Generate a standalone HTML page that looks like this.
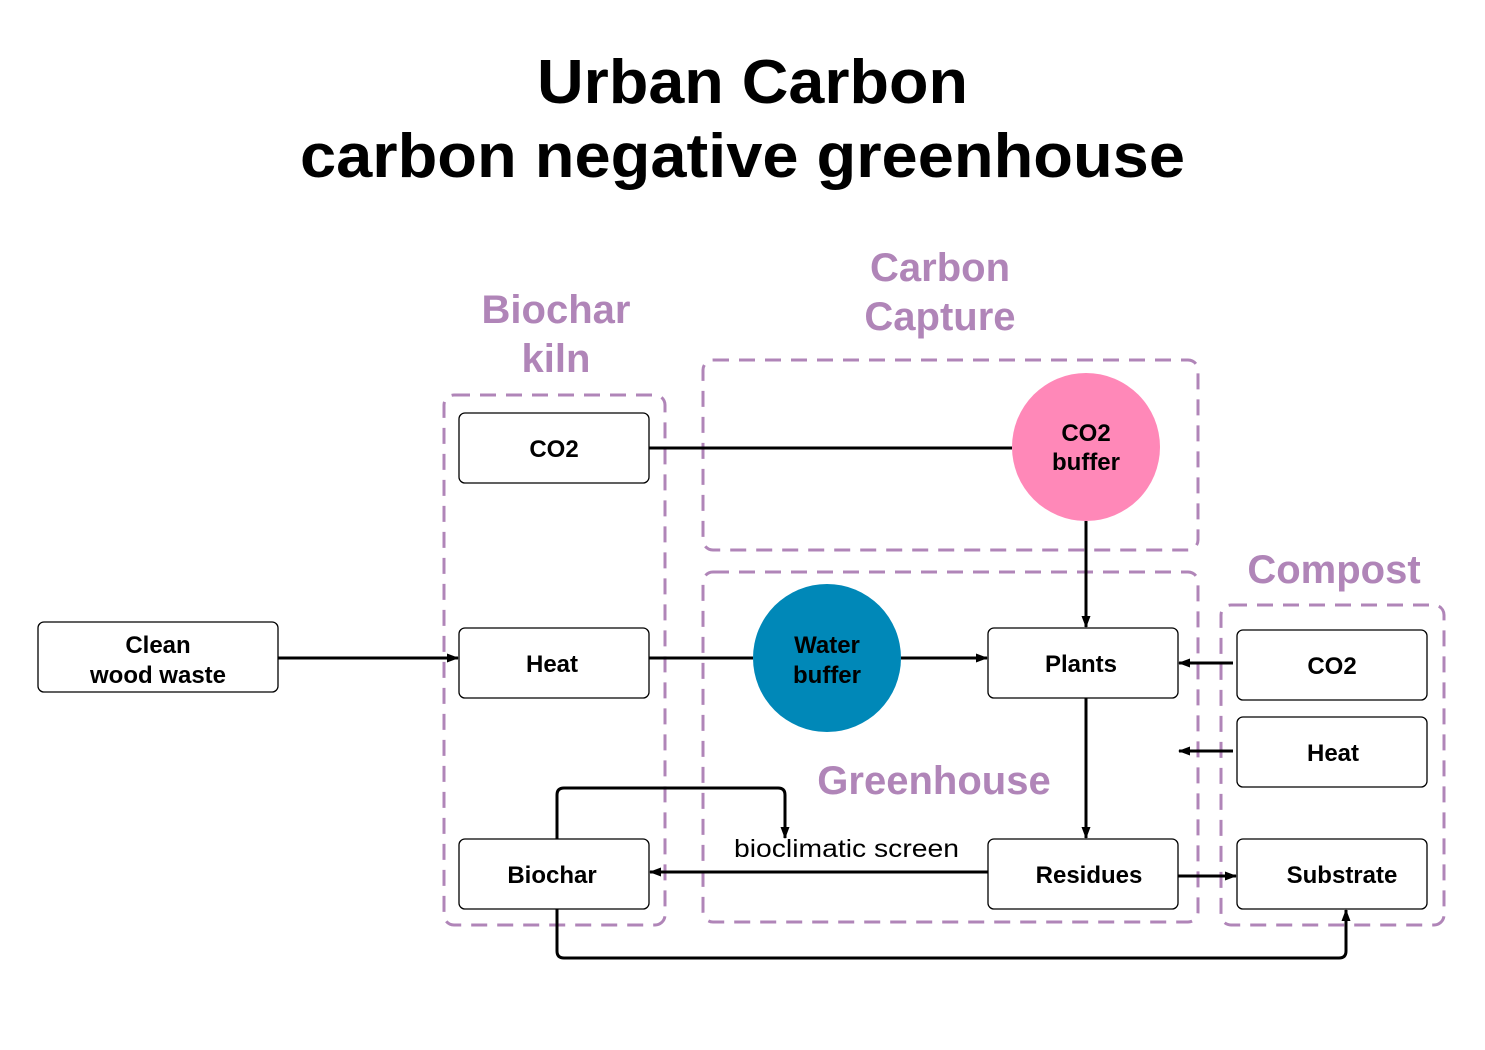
<!DOCTYPE html>
<html><head><meta charset="utf-8"><style>
html,body{margin:0;padding:0;background:#fff;}
svg{display:block;font-family:"Liberation Sans",sans-serif;}
</style></head><body>
<svg width="1485" height="1050" viewBox="0 0 1485 1050" xmlns="http://www.w3.org/2000/svg">
<defs>
<marker id="a" markerWidth="12" markerHeight="12" refX="11" refY="6" orient="auto" markerUnits="userSpaceOnUse">
<path d="M0,1.5 L12,6 L0,10.5 z" fill="#000"/></marker>
</defs>
<g font-weight="bold" fill="#000">
<text x="537" y="103" font-size="62" textLength="431" lengthAdjust="spacingAndGlyphs">Urban Carbon</text>
<text x="300" y="177" font-size="62" textLength="885" lengthAdjust="spacingAndGlyphs">carbon negative greenhouse</text>
</g>
<g font-weight="bold" text-anchor="middle" fill="#b085b8" font-size="40">
<text x="556" y="323">Biochar</text><text x="556" y="372">kiln</text>
<text x="940" y="281">Carbon</text><text x="940" y="330">Capture</text>
<text x="1334" y="583">Compost</text>
<text x="934" y="794">Greenhouse</text>
</g>
<g fill="none" stroke="#b085b8" stroke-width="3" stroke-dasharray="16 10">
<rect x="444" y="395" width="221" height="530" rx="10"/>
<rect x="703" y="360" width="495" height="190" rx="10"/>
<rect x="703" y="572" width="495" height="350" rx="10"/>
<rect x="1221" y="605" width="223" height="320" rx="10"/>
</g>
<g fill="none" stroke="#000" stroke-width="3">
<line x1="649" y1="448" x2="1012" y2="448"/>
<line x1="1086" y1="521" x2="1086" y2="627" marker-end="url(#a)"/>
<line x1="278" y1="658" x2="458" y2="658" marker-end="url(#a)"/>
<line x1="649" y1="658" x2="753" y2="658"/>
<line x1="901" y1="658" x2="987" y2="658" marker-end="url(#a)"/>
<line x1="1086" y1="698" x2="1086" y2="838" marker-end="url(#a)"/>
<line x1="1233" y1="663" x2="1179" y2="663" marker-end="url(#a)"/>
<line x1="1233" y1="751" x2="1179" y2="751" marker-end="url(#a)"/>
<line x1="1178" y1="876" x2="1236" y2="876" marker-end="url(#a)"/>
<line x1="988" y1="872" x2="650" y2="872" marker-end="url(#a)"/>
<path d="M557,839 V795 Q557,788 564,788 H778 Q785,788 785,795 V838" marker-end="url(#a)"/>
<path d="M557,909 V951 Q557,958 564,958 H1339 Q1346,958 1346,951 V910" marker-end="url(#a)"/>
</g>
<g fill="#fff" stroke="#000" stroke-width="1.3">
<rect x="459" y="413" width="190" height="70" rx="6"/>
<rect x="459" y="628" width="190" height="70" rx="6"/>
<rect x="459" y="839" width="190" height="70" rx="6"/>
<rect x="38" y="622" width="240" height="70" rx="6"/>
<rect x="988" y="628" width="190" height="70" rx="6"/>
<rect x="988" y="839" width="190" height="70" rx="6"/>
<rect x="1237" y="630" width="190" height="70" rx="6"/>
<rect x="1237" y="717" width="190" height="70" rx="6"/>
<rect x="1237" y="839" width="190" height="70" rx="6"/>
</g>
<circle cx="1086" cy="447" r="74" fill="#ff88b8"/>
<circle cx="827" cy="658" r="74" fill="#0088b8"/>
<g font-weight="bold" text-anchor="middle" fill="#000" font-size="24">
<text x="554" y="457">CO2</text>
<text x="552" y="672">Heat</text>
<text x="552" y="883">Biochar</text>
<text x="158" y="653">Clean</text><text x="158" y="683">wood waste</text>
<text x="1081" y="672">Plants</text>
<text x="1089" y="883">Residues</text>
<text x="1332" y="674">CO2</text>
<text x="1333" y="761">Heat</text>
<text x="1342" y="883">Substrate</text>
<text x="1086" y="441">CO2</text><text x="1086" y="470">buffer</text>
<text x="827" y="653">Water</text><text x="827" y="683">buffer</text>
</g>
<text x="734" y="857" font-size="25" fill="#000" textLength="225" lengthAdjust="spacingAndGlyphs">bioclimatic screen</text>
</svg>
</body></html>
